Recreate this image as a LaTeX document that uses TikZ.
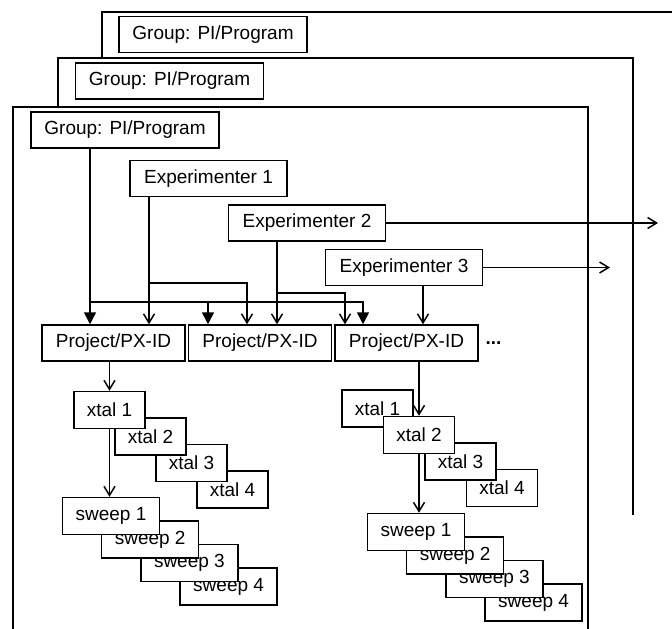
\documentclass[tikz,border=0pt]{standalone}
\usepackage{fontspec}
\setmainfont{Liberation Sans}
\usetikzlibrary{arrows.meta}
\begin{document}
\begin{tikzpicture}[x=1pt,y=-1pt,line width=1.5pt,
    every node/.style={font=\fontsize{19}{21}\selectfont},
    box/.style={draw,fill=white,inner sep=0pt,minimum height=36pt},
    grp/.style={box,minimum width=188pt},
    expr/.style={box,minimum width=157pt},
    prj/.style={box,minimum width=143pt},
    xtl/.style={box,minimum width=71pt,minimum height=37pt},
    swp/.style={box,minimum width=97pt,minimum height=37pt},
    fil/.style={-{Triangle[width=12pt,length=12pt]}},
    opn/.style={-{Straight Barb[width=11pt,length=9pt]}}]
  \useasboundingbox (0,0) rectangle (672,629);
  % nested group frames
  \draw (102,58) -- (102,12) -- (672,12);
  \draw (58,107) -- (58,58) -- (633,58) -- (633,515);
  \draw (13,629) -- (13,107) -- (588,107) -- (588,629);
  \node[grp] (g3) at (213,34.5) {Group: PI/Program};
  \node[grp] (g2) at (169.5,81) {Group: PI/Program};
  \node[grp] (g1) at (125,130) {Group: PI/Program};
  \node[expr] (e1) at (208.5,178.5) {Experimenter 1};
  \node[expr] (e2) at (307,223) {Experimenter 2};
  \node[expr] (e3) at (404,267.5) {Experimenter 3};
  \node[prj] (p1) at (113.5,343) {Project/PX-ID};
  \node[prj] (p2) at (260,343) {Project/PX-ID};
  \node[prj] (p3) at (406.5,343) {Project/PX-ID};
  \node[anchor=west,inner sep=0pt,xshift=6pt] (dots) at (p3.east) {\textbf{...}};
  % crystals and sweeps
  \foreach \i in {4,3,2,1}
    \node[xtl] (xa\i) at ({109.5+41*(\i-1)},{410+26.5*(\i-1)}) {xtal \i};
  \foreach \i in {4,3,2,1}
    \node[swp] (sa\i) at ({111+39.2*(\i-1)},{516+23.5*(\i-1)}) {sweep \i};
  \foreach \i in {1,4,3,2}
    \node[xtl] (xb\i) at ({377.5+41.5*(\i-1)},{408.5+26.5*(\i-1)}) {xtal \i};
  \foreach \i in {4,3,2,1}
    \node[swp] (sb\i) at ({416+39.2*(\i-1)},{532+23.5*(\i-1)}) {sweep \i};
  % group links
  \coordinate (ga) at (90,302); \coordinate (gb) at (208,302); \coordinate (gc) at (363,302);
  \draw[fil] (g1.south -| ga) -- (p1.north -| ga);
  \draw[fil] (ga) -- (gc) -- (p3.north -| gc);
  \draw[fil] (gb) -- (p2.north -| gb);
  % experimenter links
  \coordinate (ea) at (149,283); \coordinate (eb) at (247,283);
  \coordinate (ec) at (277,293); \coordinate (ed) at (345,293);
  \coordinate (ee) at (423,300);
  \coordinate (e2r) at (658,223); \coordinate (e3r) at (610,265);
  \draw[opn] (e1.south -| ea) -- (p1.north -| ea);
  \draw[opn] (ea) -- (eb) -- (p2.north -| eb);
  \draw[opn] (e2.south -| ec) -- (p2.north -| ec);
  \draw[opn] (ec) -- (ed) -- (p3.north -| ed);
  \draw[opn] (e2.east) -- (e2r);
  \draw[opn] (e3.south -| ee) -- (p3.north -| ee);
  \draw[opn] (e3.east) -- (e3.east -| e3r);
  \draw[opn] (xa1.north |- p1.south) -- (xa1.north);
  \draw[opn] (xa1.south) -- (xa1.south |- sa1.north);
  \draw[opn] (xb2.north |- p3.south) -- (xb2.north);
  \draw[opn] (xb2.south) -- (xb2.south |- sb1.north);
\end{tikzpicture}
\end{document}
